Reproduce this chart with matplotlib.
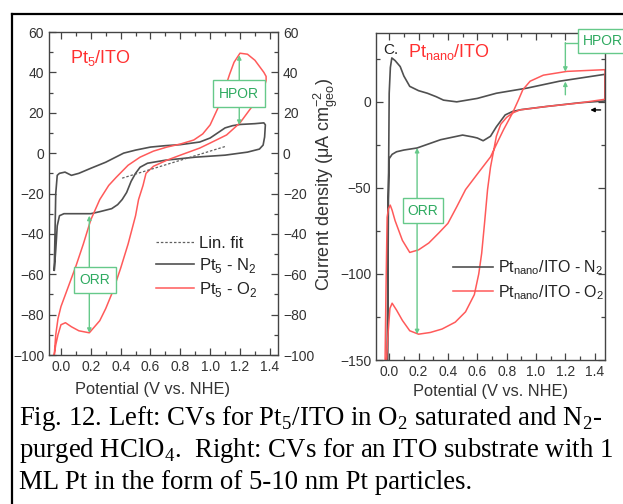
import matplotlib
matplotlib.use("Agg")
import matplotlib.pyplot as plt
from matplotlib.lines import Line2D
from matplotlib.patches import Rectangle
from matplotlib.ticker import MultipleLocator, FormatStrFormatter

# ---------------------------------------------------------------------------
# Data (potential in V vs NHE, current in uA/cm2)
# ---------------------------------------------------------------------------
# Left panel: Pt5/ITO
pt5_n2_up_v = [-0.045, -0.04, -0.035, -0.025, -0.01, 0.027, 0.07, 0.12, 0.2, 0.3, 0.42,
               0.5, 0.6, 0.7, 0.8, 0.93, 1.0, 1.05, 1.1, 1.15, 1.2, 1.3, 1.36]
pt5_n2_up_i = [-58, -40, -20, -11, -10, -9.4, -11, -10, -7.5, -4.5, 0,
               1.5, 3, 3.7, 4.2, 5.5, 7.5, 10, 12.5, 13.6, 14.2, 14.6, 15]
pt5_n2_dn_v = [1.37, 1.365, 1.355, 1.33, 1.25, 1.1, 0.9, 0.7, 0.58, 0.53, 0.5, 0.47,
               0.44, 0.41, 0.38, 0.34, 0.26, 0.2, 0.1, 0.02, -0.01, -0.025, -0.035, -0.045]
pt5_n2_dn_i = [14, 8, 4, 2, 0.5, -1, -2, -3.5, -5, -7, -10, -14,
               -19.5, -23, -25.5, -27.5, -29, -30, -30, -30, -31, -36, -48, -58]
pt5_o2_up_v = [-0.045, -0.035, -0.02, 0.0, 0.05, 0.1, 0.15, 0.2, 0.26, 0.32, 0.37, 0.45,
               0.53, 0.62, 0.71, 0.8, 0.89, 0.95, 1.0, 1.05, 1.09, 1.13, 1.16, 1.2,
               1.25, 1.3, 1.36, 1.375]
pt5_o2_up_i = [-100, -90, -82, -76, -66, -56, -45, -33, -23, -16, -12, -6,
               -2, 1, 3, 4.5, 6.5, 9.5, 14, 22, 30, 39, 45, 49.5,
               49, 46, 40, 38]
pt5_o2_dn_v = [1.375, 1.36, 1.33, 1.27, 1.2, 1.11, 1.0, 0.93, 0.8, 0.71, 0.62, 0.57,
               0.55, 0.52, 0.5, 0.45, 0.4, 0.35, 0.3, 0.26, 0.19, 0.12, 0.07, 0.03,
               0.0, -0.02, -0.035, -0.045]
pt5_o2_dn_i = [36, 32, 28, 22, 15, 9, 5, 2.5, -1, -3.5, -6.5, -10,
               -16, -23, -31, -45, -57, -68, -77, -83, -89, -88, -86, -84,
               -85, -90, -95, -100]
linfit_v = [0.41, 1.11]
linfit_i = [-12.4, 3.5]

# Right panel: Pt_nano/ITO
nano_n2_up_v = [-0.012, -0.008, -0.004, 0.0, 0.008, 0.018, 0.04, 0.075, 0.1, 0.14, 0.2,
                0.26, 0.32, 0.37, 0.46, 0.6, 0.73, 0.94, 1.16, 1.47]
nano_n2_up_i = [-150, -100, -40, 5, 20, 25.5, 24, 20.5, 15, 9, 6.5,
                5, 3, 1, 0, 2, 5, 8, 12, 16]
nano_n2_dn_v = [1.47, 1.3, 1.07, 0.9, 0.84, 0.79, 0.73, 0.69, 0.64, 0.6, 0.57, 0.5,
                0.35, 0.19, 0.1, 0.05, 0.02, 0.0, -0.008, -0.012]
nano_n2_dn_i = [0.5, -0.5, -2.7, -4.5, -5.6, -7.6, -14.5, -20, -22.6, -21, -20.4, -19.3,
                -22, -26.8, -28, -29, -30.5, -33, -60, -150]
nano_o2_up_v = [-0.028, -0.022, -0.014, -0.005, 0.007, 0.02, 0.04, 0.09, 0.14, 0.2,
                0.27, 0.34, 0.4, 0.46, 0.52, 0.6, 0.69, 0.74, 0.78, 0.84, 0.88, 0.91,
                0.96, 1.05, 1.21, 1.47]
nano_o2_up_i = [-150, -110, -67, -62, -60, -63, -69, -80.5, -87.5, -86,
                -82, -76, -70.6, -61, -51, -42, -32, -23, -16, -6.5, 1, 7,
                12, 15.5, 17.7, 18.7]
nano_o2_dn_v = [1.47, 1.3, 1.07, 0.89, 0.84, 0.8, 0.76, 0.73, 0.69, 0.67, 0.65, 0.63,
                0.61, 0.58, 0.52, 0.45, 0.36, 0.28, 0.2, 0.14, 0.09, 0.05, 0.02, 0.005,
                -0.008, -0.018]
nano_o2_dn_i = [1.5, -0.6, -2.7, -4.7, -6.5, -9, -13, -20, -38, -51, -70, -88,
                -100, -112, -122, -128, -132, -134, -135, -133, -127, -121, -117, -120,
                -135, -150]

caption = [
    r"Fig. 12. Left: CVs for Pt$_\mathregular{5}$/ITO in O$_\mathregular{2}$ saturated and N$_\mathregular{2}$-",
    r"purged HClO$_\mathregular{4}$.  Right: CVs for an ITO substrate with 1",
    "ML Pt in the form of 5-10 nm Pt particles.",
]

GRAY = "#505050"
RED = "#ff5a5a"
GREEN_TXT = "#2eaa60"
GREEN_LN = "#66c98a"

plt.rcParams["font.family"] = ["Liberation Sans", "DejaVu Sans"]

W, H = 623, 504
fig = plt.figure(figsize=(W / 100, H / 100), dpi=100)
ax1 = fig.add_axes([0.0787, 0.2956, 0.3676, 0.6409])
ax2 = fig.add_axes([0.6035, 0.2857, 0.3676, 0.6488])


def style(ax, ymaj, ymin):
    ax.xaxis.set_major_locator(MultipleLocator(0.2))
    ax.xaxis.set_minor_locator(MultipleLocator(0.1))
    ax.xaxis.set_major_formatter(FormatStrFormatter("%.1f"))
    ax.yaxis.set_major_locator(MultipleLocator(ymaj))
    ax.yaxis.set_minor_locator(MultipleLocator(ymin))
    ax.tick_params(which="both", direction="in", top=True, right=True,
                   colors="#444444", labelcolor="#333333", labelsize=10, width=0.9)
    ax.tick_params(which="major", length=5, pad=3.5)
    ax.tick_params(which="minor", length=3)
    for s in ax.spines.values():
        s.set_color("#444444")
        s.set_linewidth(1.0)
    ax.set_xlabel("Potential (V vs. NHE)", fontsize=11.8, color="#333333")


def box(ax, x0, x1, y0, y1, label, clip=True):
    r = Rectangle((x0, y0), x1 - x0, y1 - y0, fc="white", ec=GREEN_LN, lw=1.0,
                  zorder=5, clip_on=clip)
    ax.add_patch(r)
    ax.text((x0 + x1) / 2 if clip else x0 + 0.17, (y0 + y1) / 2, label, color=GREEN_TXT,
            fontsize=10, ha="center", va="center", zorder=6, clip_on=False)


def arrow(ax, x, y0, y1, style="<|-|>"):
    ax.annotate("", xy=(x, y1), xytext=(x, y0),
                arrowprops=dict(arrowstyle=style, color=GREEN_LN, lw=1.0,
                                mutation_scale=6, shrinkA=0, shrinkB=0),
                zorder=4)


# ---- left panel ----
ax1.plot(pt5_n2_up_v + pt5_n2_dn_v, pt5_n2_up_i + pt5_n2_dn_i, color=GRAY, lw=1.2)
ax1.plot(pt5_o2_up_v + pt5_o2_dn_v, pt5_o2_up_i + pt5_o2_dn_i, color=RED, lw=1.1)
ax1.plot(linfit_v, linfit_i, color="#606060", lw=0.9, ls=(0, (2, 1.5)))
ax1.set_xlim(-0.08, 1.455)
ax1.set_ylim(-100, 60)
style(ax1, 20, 10)
ax1.tick_params(labelright=True)
ax1.xaxis.set_label_coords(0.45, -0.0836)

arrow(ax1, 1.195, 14, 48.5)
box(ax1, 1.02, 1.37, 22.8, 36.1, "HPOR")
arrow(ax1, 0.19, -31, -89)
box(ax1, 0.087, 0.369, -69.3, -56.4, "ORR")

ax1.text(0.092, 0.92, r"Pt$_\mathregular{5}$/ITO", transform=ax1.transAxes, color="#ff3030",
         fontsize=13, va="center")

h1 = [Line2D([], [], color="#606060", lw=0.9, ls=(0, (2, 1.5))),
      Line2D([], [], color=GRAY, lw=1.2),
      Line2D([], [], color=RED, lw=1.1)]
ax1.legend(h1, ["Lin. fit", r"Pt$_\mathregular{5}$ - N$_\mathregular{2}$",
                r"Pt$_\mathregular{5}$ - O$_\mathregular{2}$"],
           loc="upper left", bbox_to_anchor=(0.467, 0.369), frameon=False,
           fontsize=12, handlelength=2.3, handletextpad=0.3, labelspacing=0.3,
           borderpad=0, borderaxespad=0, labelcolor="#222222")

# ---- right panel ----
ax2.plot(nano_n2_up_v + nano_n2_dn_v, nano_n2_up_i + nano_n2_dn_i, color=GRAY, lw=1.2)
ax2.plot(nano_o2_up_v + nano_o2_dn_v, nano_o2_up_i + nano_o2_dn_i, color=RED, lw=1.1)
ax2.set_xlim(-0.09, 1.47)
ax2.set_ylim(-150, 40)
style(ax2, 50, 25)
ax2.xaxis.set_label_coords(0.5, -0.0734)
ax2.set_ylabel(r"Current density ($\mathregular{\mu}$A cm$^{\mathregular{-2}}_{\mathregular{geo}}$)",
               fontsize=13, color="#333333")
ax2.yaxis.set_label_coords(-0.157, 0.538)

arrow(ax2, 0.19, -26.8, -135)
box(ax2, 0.095, 0.367, -70.6, -56, "ORR")
# HPOR indicator, box sits partly outside the frame
ax2.plot([1.2, 1.286], [34.4, 34.4], color=GREEN_LN, lw=1.0, clip_on=False, zorder=4)
arrow(ax2, 1.2, 34.4, 17.5, style="-|>")
arrow(ax2, 1.2, 4.1, 11.8, style="-|>")
box(ax2, 1.286, 1.75, 28.6, 42.6, "HPOR", clip=False)
ax2.annotate("", xy=(1.37, -4.7), xytext=(1.44, -4.7),
             arrowprops=dict(arrowstyle="-|>", color="black", lw=1.0,
                             mutation_scale=6, shrinkA=0, shrinkB=0))

ax2.text(0.03, 0.948, "C.", transform=ax2.transAxes, fontsize=11, color="#222222",
         va="center")
ax2.text(0.14, 0.942, r"Pt$_\mathregular{nano}$/ITO", transform=ax2.transAxes,
         color="#ff3030", fontsize=13, va="center")

h2 = [Line2D([], [], color=GRAY, lw=1.2), Line2D([], [], color=RED, lw=1.1)]
ax2.legend(h2, [r"Pt$_\mathregular{nano}$/ITO - N$_\mathregular{2}$",
                r"Pt$_\mathregular{nano}$/ITO - O$_\mathregular{2}$"],
           loc="upper left", bbox_to_anchor=(0.336, 0.31), frameon=False,
           fontsize=11.5, handlelength=2.5, handletextpad=0.35, labelspacing=0.35,
           borderpad=0, borderaxespad=0, labelcolor="#222222")

# ---- page frame and caption ----
fig.add_artist(Line2D([0.0193, 1.0], [0.972, 0.972], transform=fig.transFigure,
                      color="black", lw=1.6))
fig.add_artist(Line2D([0.0193, 0.0193], [0.0, 0.972], transform=fig.transFigure,
                      color="black", lw=1.6))

for line, base in zip(caption, [425, 457, 489]):
    fig.text(19 / W, 1 - base / H, line, family="Liberation Serif", fontsize=19.3,
             va="baseline", ha="left", color="black")

fig.savefig("out.png", dpi=100)
